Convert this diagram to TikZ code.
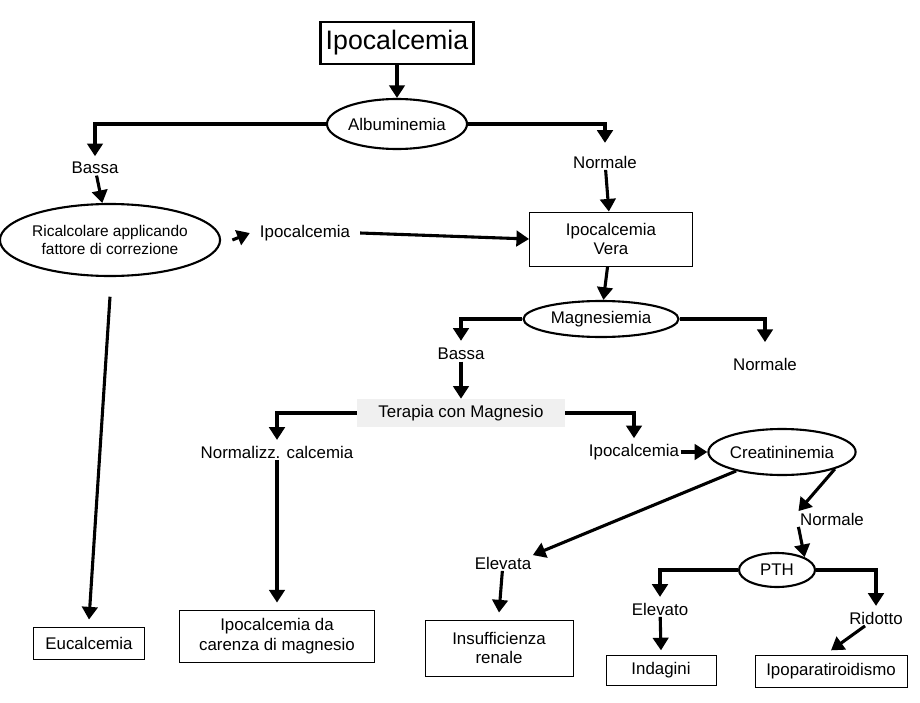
\documentclass[tikz,border=0pt]{standalone}
\usepackage{fontspec}
\setmainfont{Liberation Sans}
\usetikzlibrary{arrows.meta, positioning, shapes.geometric}
\tikzset{
  txt/.style={font=\fontsize{12}{14}\selectfont, inner sep=1pt, align=center},
  oval/.style={ellipse, draw=black, line width=1.5pt, txt, inner sep=0pt},
  box/.style={rectangle, draw=black, line width=0.6pt, txt},
  arrow/.style={line width=2.2pt, -{Triangle[width=11pt,length=9pt]}}
}
\begin{document}
\begin{tikzpicture}[x=0.025cm, y=-0.025cm]
\useasboundingbox (0,0) rectangle (920,703);

\node (top) [rectangle, draw=black, line width=1.8pt, minimum width=153*0.025cm, minimum height=42*0.025cm, font=\fontsize{19}{22}\selectfont] at (397,43) {Ipocalcemia};
\node (alb) [oval, minimum width=140*0.025cm, minimum height=50*0.025cm] at (397,124) {Albuminemia};
\node (bassa1) [txt] at (95,168) {Bassa};
\node (norm1) [txt] at (605,162) {Normale};
\node (ricalc) [oval, minimum width=200*0.025cm, minimum height=72*0.025cm, font=\fontsize{11}{13}\selectfont] at (110,240) {Ricalcolare applicando\\fattore di correzione};
\node (ipo1) [txt] at (305,233) {Ipocalcemia};
\node (vera) [box, minimum width=163*0.025cm, minimum height=54*0.025cm] at (611,239) {Ipocalcemia\\Vera};
\node (magn) [oval, minimum width=155*0.025cm, minimum height=36*0.025cm] at (601,319) {Magnesiemia};
\node (bassa2) [txt] at (461,354) {Bassa};
\node (norm2) [txt] at (765,364) {Normale};
\node (terapia) [rectangle, fill=gray!12, txt, minimum width=208*0.025cm, minimum height=28*0.025cm] at (461,413) {Terapia con Magnesio};
\node (normaliz) [txt] at (277,452) {Normalizz. calcemia};
\node (ipo2) [txt] at (634,452) {Ipocalcemia};
\node (creat) [oval, minimum width=128*0.025cm, minimum height=46*0.025cm] at (782,452) {Creatininemia};
\node (norm3) [txt] at (832,519) {Normale};
\node (elevata) [txt] at (503,563) {Elevata};
\node (pth) [oval, minimum width=76*0.025cm, minimum height=34*0.025cm] at (777,570) {PTH};
\node (elevato) [txt] at (660,609) {Elevato};
\node (ridotto) [txt] at (876,618) {Ridotto};
\node (eucal) [box, minimum width=111*0.025cm, minimum height=32*0.025cm] at (89,643) {Eucalcemia};
\node (carenza) [box, minimum width=195*0.025cm, minimum height=52*0.025cm] at (277,636) {Ipocalcemia da\\carenza di magnesio};
\node (renale) [box, minimum width=148*0.025cm, minimum height=56*0.025cm] at (499,648) {Insufficienza\\renale};
\node (indag) [box, minimum width=110*0.025cm, minimum height=30*0.025cm] at (661,670) {Indagini};
\node (ipopara) [box, minimum width=152*0.025cm, minimum height=32*0.025cm] at (831,671) {Ipoparatiroidismo};

\draw [arrow] (top) -- (alb);
\draw [arrow] (alb.west) -| ([yshift=3pt]bassa1.north);
\draw [arrow] (alb.east) -| ([yshift=8pt]norm1.north);
\draw [arrow] (bassa1) -- (ricalc);
\draw [arrow] (norm1) -- (vera);
\draw [arrow] ([xshift=8pt]ricalc.east) -- ([xshift=-6pt]ipo1.west);
\draw [arrow] ([xshift=6pt]ipo1.east) -- (vera.west);
\draw [arrow] ([yshift=-14pt]ricalc.south) -- ([yshift=5pt]eucal.north);
\draw [arrow] (vera) -- (magn);
\draw [arrow] (magn.west) -| ([yshift=4pt]bassa2.north);
\draw [arrow] (magn.east) -| ([yshift=10pt]norm2.north);
\draw [arrow] (bassa2) -- (terapia);
\draw [arrow] (terapia.west) -| ([yshift=3pt]normaliz.north);
\draw [arrow] (terapia.east) -| ([yshift=3pt]ipo2.north);
\draw [arrow] (normaliz) -- ([yshift=5pt]carenza.north);
\draw [arrow] (ipo2) -- (creat);
\draw [arrow] (creat.south east) -- (norm3.north west);
\draw [arrow] (creat) -- (elevata.north east);
\draw [arrow] (norm3.south west) -- (pth.north east);
\draw [arrow] (elevata) -- ([yshift=5pt]renale.north);
\draw [arrow] (pth.west) -| ([yshift=3pt]elevato.north);
\draw [arrow] (pth.east) -| ([yshift=3pt]ridotto.north);
\draw [arrow] (elevato) -- ([yshift=3pt]indag.north);
\draw [arrow] (ridotto) -- ([yshift=3pt]ipopara.north);
\end{tikzpicture}
\end{document}
